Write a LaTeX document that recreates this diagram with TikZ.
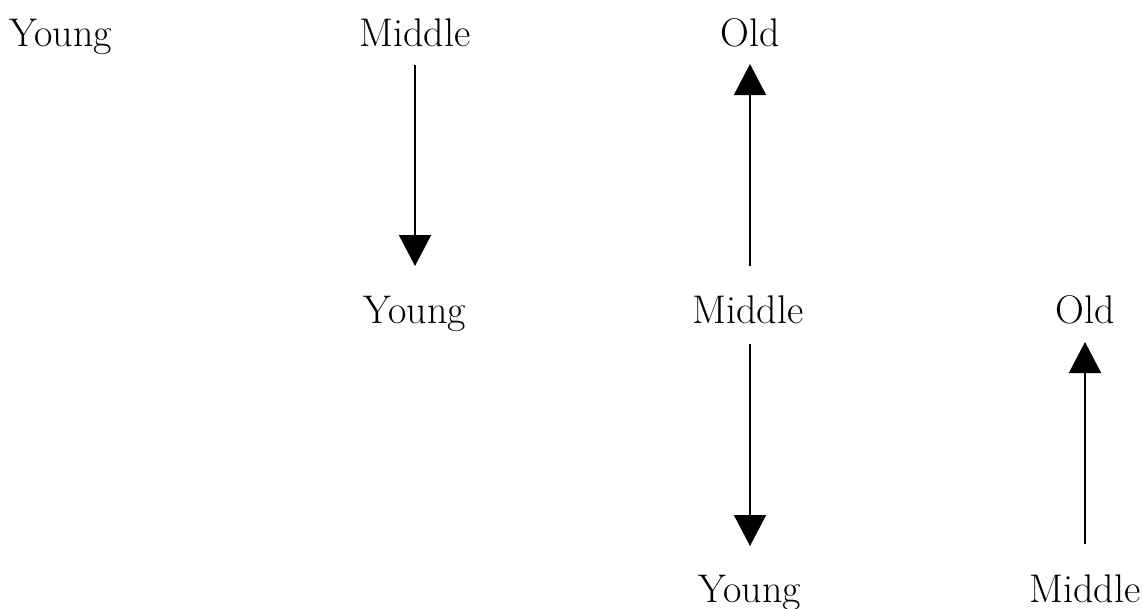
\documentclass[tikz,border=0pt]{standalone}
\usetikzlibrary{arrows.meta}
\begin{document}
\begin{tikzpicture}[x=1pt,y=-1pt,
  lbl/.style={anchor=base,inner sep=0pt,font=\fontsize{40}{48}\selectfont},
  arr/.style={line width=1.8pt,-{Triangle[width=32pt,length=31pt]}}]
\useasboundingbox (0,0) rectangle (1143,608);
\node[lbl] (y1) at (61,46) {Young};
\node[lbl] (m1) at (415,46) {Middle};
\node[lbl] (o1) at (750,46) {Old};
\node[lbl] (y2) at (415,323) {Young};
\node[lbl] (m2) at (748,323) {Middle};
\node[lbl] (o2) at (1085,323) {Old};
\node[lbl] (y3) at (750,602) {Young};
\node[lbl] (m3) at (1085,602) {Middle};
\coordinate (a1s) at (415,65);  \coordinate (a1e) at (415,266);
\coordinate (a2s) at (750,266); \coordinate (a2e) at (750,64);
\coordinate (a3s) at (750,344); \coordinate (a3e) at (750,546);
\coordinate (a4s) at (1085,544); \coordinate (a4e) at (1085,342);
\draw[arr] (a1s) -- (a1e);
\draw[arr] (a2s) -- (a2e);
\draw[arr] (a3s) -- (a3e);
\draw[arr] (a4s) -- (a4e);
\end{tikzpicture}
\end{document}
